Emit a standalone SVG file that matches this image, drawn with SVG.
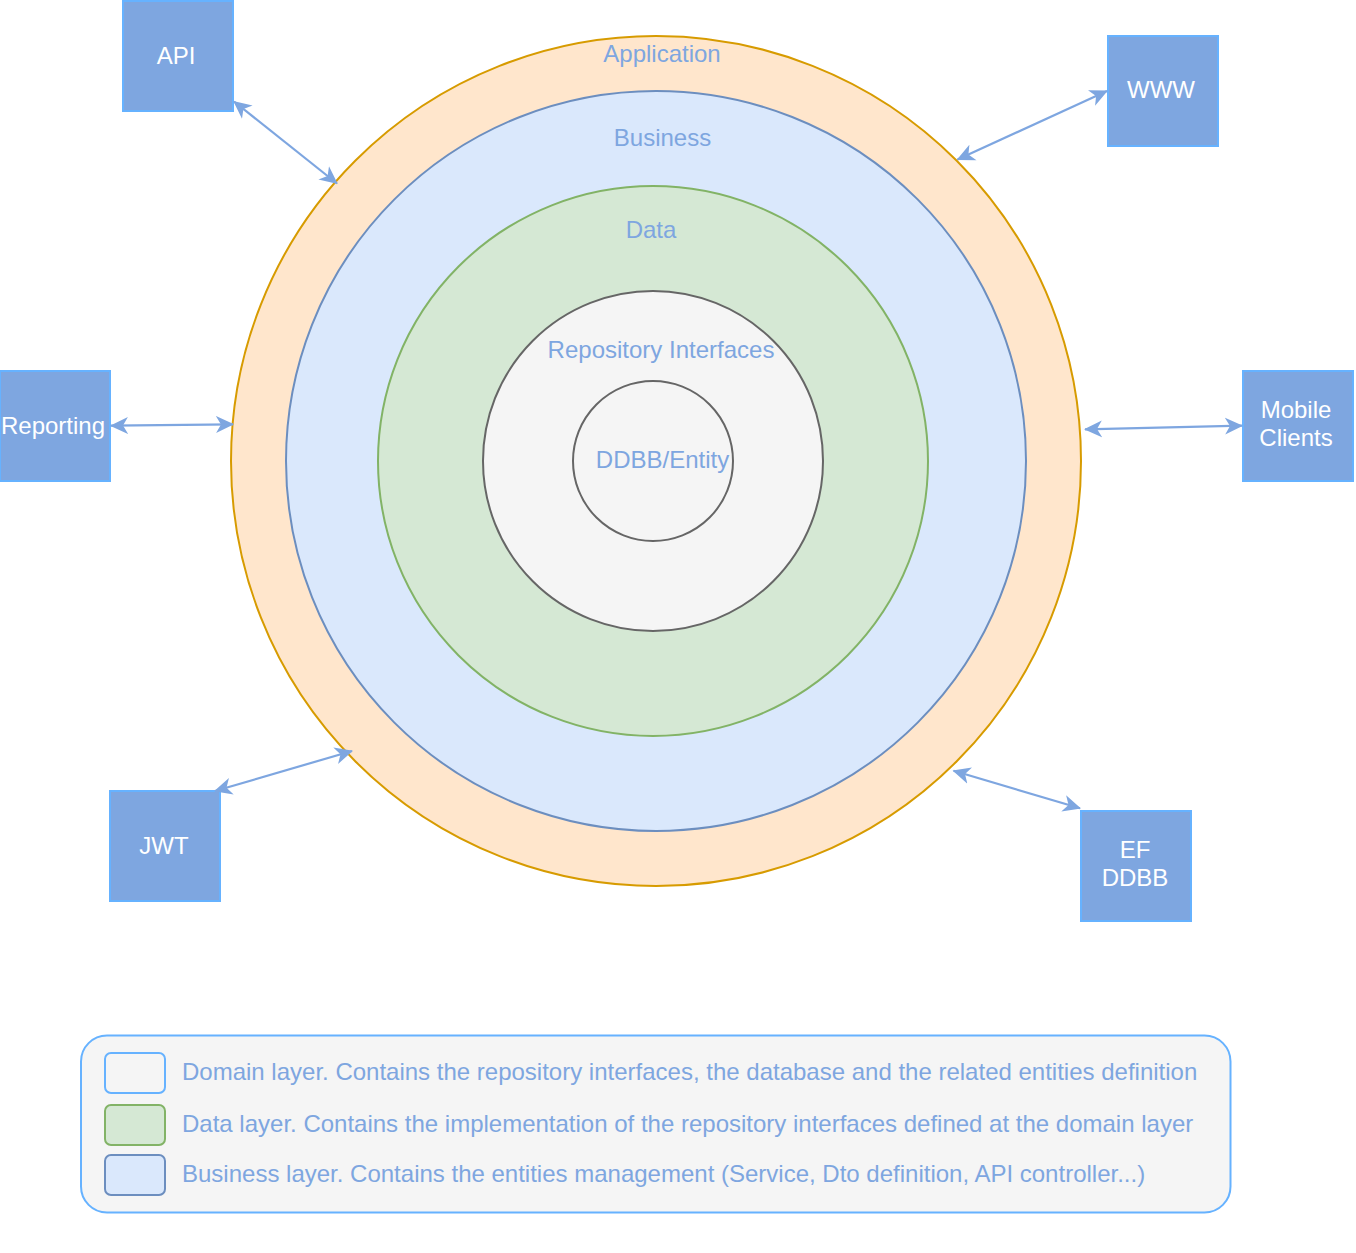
<svg xmlns="http://www.w3.org/2000/svg" width="1356" height="1253" viewBox="0 0 1356 1253">
<style>
text{font-family:"Liberation Sans",Arial,Helvetica,sans-serif;font-size:24px;text-anchor:middle}
.lbl{fill:#7EA6E0}
.box{fill:#7EA6E0;stroke:#66B2FF;stroke-width:2}
.boxt{fill:#FFFFFF}
.conn{fill:none;stroke:#7EA6E0;stroke-width:2.2}
.leg{fill:#7EA6E0;text-anchor:start}
</style>
<defs>
<marker id="arr" viewBox="0 0 18 18" refX="17" refY="9" markerWidth="18" markerHeight="18" markerUnits="userSpaceOnUse" orient="auto-start-reverse">
<path d="M0,0.5 L18,9 L0,17.5 L5,9 z" fill="#7EA6E0"/>
</marker>
</defs>
<rect width="1356" height="1253" fill="#FFFFFF"/>
<g id="layer-application">
<circle cx="656" cy="461" r="425" fill="#FFE6CC" stroke="#D79B00" stroke-width="2"/>
<text class="lbl" x="662" y="62">Application</text>
</g>
<g id="layer-business">
<circle cx="656" cy="461" r="370" fill="#DAE8FC" stroke="#6C8EBF" stroke-width="2"/>
<text class="lbl" x="662.5" y="146">Business</text>
</g>
<g id="layer-data">
<circle cx="653" cy="461" r="275" fill="#D5E8D4" stroke="#82B366" stroke-width="2"/>
<text class="lbl" x="651" y="238">Data</text>
</g>
<g id="layer-repository">
<circle cx="653" cy="461" r="170" fill="#F5F5F5" stroke="#666666" stroke-width="2"/>
<text class="lbl" x="661" y="358">Repository Interfaces</text>
</g>
<g id="layer-entity">
<circle cx="653" cy="461" r="80" fill="#F5F5F5" stroke="#666666" stroke-width="2"/>
<text class="lbl" x="662.5" y="467.5">DDBB/Entity</text>
</g>
<g id="node-api">
<rect class="box" x="123" y="1" width="110" height="110"/>
<text class="boxt" x="176" y="64">API</text>
</g>
<g id="node-www">
<rect class="box" x="1108" y="36" width="110" height="110"/>
<text class="boxt" x="1161" y="98">WWW</text>
</g>
<g id="node-reporting">
<rect class="box" x="0" y="371" width="110" height="110"/>
<text class="boxt" x="53" y="434">Reporting</text>
</g>
<g id="node-mobile">
<rect class="box" x="1243" y="371" width="110" height="110"/>
<text class="boxt" x="1296" y="418">Mobile</text>
<text class="boxt" x="1296" y="446">Clients</text>
</g>
<g id="node-jwt">
<rect class="box" x="110" y="791" width="110" height="110"/>
<text class="boxt" x="164" y="854">JWT</text>
</g>
<g id="node-ef">
<rect class="box" x="1081" y="811" width="110" height="110"/>
<text class="boxt" x="1135" y="858">EF</text>
<text class="boxt" x="1135" y="886">DDBB</text>
</g>
<g id="connectors">
<line class="conn" x1="234" y1="101.5" x2="337" y2="183.5" marker-start="url(#arr)" marker-end="url(#arr)"/>
<line class="conn" x1="1107" y1="91" x2="957.5" y2="159.5" marker-start="url(#arr)" marker-end="url(#arr)"/>
<line class="conn" x1="111" y1="425.7" x2="233" y2="424.3" marker-start="url(#arr)" marker-end="url(#arr)"/>
<line class="conn" x1="1085" y1="429.3" x2="1242" y2="425.7" marker-start="url(#arr)" marker-end="url(#arr)"/>
<line class="conn" x1="215" y1="791" x2="352" y2="751" marker-start="url(#arr)" marker-end="url(#arr)"/>
<line class="conn" x1="953.5" y1="770.7" x2="1080" y2="808.3" marker-start="url(#arr)" marker-end="url(#arr)"/>
</g>
<g id="legend">
<rect x="81" y="1035.5" width="1149.5" height="177" rx="26" ry="26" fill="#F5F5F5" stroke="#66B2FF" stroke-width="2"/>
<rect x="105" y="1053" width="60" height="40" rx="6" ry="6" fill="#F5F5F5" stroke="#66B2FF" stroke-width="2"/>
<rect x="105" y="1105" width="60" height="40" rx="6" ry="6" fill="#D5E8D4" stroke="#82B366" stroke-width="2"/>
<rect x="105" y="1155" width="60" height="40" rx="6" ry="6" fill="#DAE8FC" stroke="#6C8EBF" stroke-width="2"/>
<text class="leg" x="182" y="1080">Domain layer. Contains the repository interfaces, the database and the related entities definition</text>
<text class="leg" x="182" y="1132">Data layer. Contains the implementation of the repository interfaces defined at the domain layer</text>
<text class="leg" x="182" y="1182">Business layer. Contains the entities management (Service, Dto definition, API controller...)</text>
</g>
</svg>
